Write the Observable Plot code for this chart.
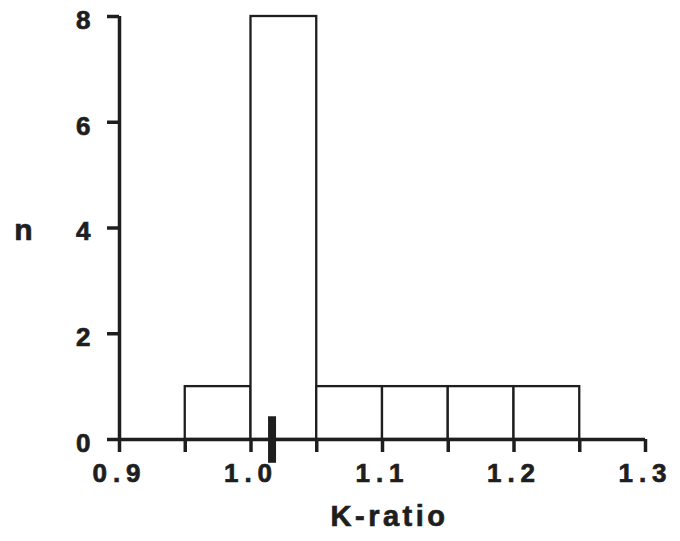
<!DOCTYPE html>
<html>
<head>
<meta charset="utf-8">
<script src="https://cdn.jsdelivr.net/npm/d3@7"></script>
<script src="https://cdn.jsdelivr.net/npm/@observablehq/plot@0.6"></script>
<style>
  html, body { margin: 0; padding: 0; background: #fff; }
  #chart svg { display: block; }
  #chart svg text { stroke: #1e1e1e; stroke-width: 0.7px; }
  .ticklab text { letter-spacing: 6px; }
  .xlab text { letter-spacing: 3.5px; }
</style>
</head>
<body>
<div id="chart"></div>
<script>
// Bin edges and counts (K-ratio histogram)
const binStart = [0.95, 1.00, 1.05, 1.10, 1.15, 1.20];
const binEnd   = [1.00, 1.05, 1.10, 1.15, 1.20, 1.25];
const counts   = [1, 8, 1, 1, 1, 1];

// Marker (mean K-ratio)
const markerX = 1.016;
const markerTop = 0.43;
const markerBottom = -0.45;

// Axis ticks
const xTicks = [0.9, 0.95, 1.0, 1.05, 1.1, 1.15, 1.2, 1.25, 1.3];
const yTicks = [0, 2, 4, 6, 8];

const bins = binStart.map((s, i) => ({x1: s, x2: binEnd[i], n: counts[i]}));
const ink = "#1e1e1e";
const font = "'Liberation Sans', Arial, Helvetica, sans-serif";

const chart = Plot.plot({
  width: 680,
  height: 541,
  marginLeft: 119,
  marginRight: 35,
  marginTop: 16,
  marginBottom: 102,
  style: {fontFamily: font, fontWeight: "bold", color: ink, background: "#fff"},
  x: {domain: [0.9, 1.3]},
  y: {domain: [0, 8]},
  marks: [
    Plot.rect(bins, {x1: "x1", x2: "x2", y1: 0, y2: "n", fill: "white", stroke: ink, strokeWidth: 2.3}),
    Plot.ruleX([0.9], {y1: 0, y2: 8, stroke: ink, strokeWidth: 3.5}),
    Plot.ruleY([0], {x1: 0.9, x2: 1.3, stroke: ink, strokeWidth: 3.5}),
    Plot.axisX({
      ticks: xTicks, tickSize: 13, tickPadding: 11, strokeWidth: 3.5, stroke: ink,
      tickFormat: d => { const s = d.toFixed(2); return s.endsWith("0") ? d.toFixed(1) : ""; },
      fontSize: 26, label: null, className: "ticklab"
    }),
    Plot.axisY({
      ticks: yTicks, tickSize: 12, strokeWidth: 3.5, stroke: ink,
      tickFormat: () => "", label: null
    }),
    Plot.axisY({
      ticks: yTicks, tickSize: 0, tickPadding: 29, dy: 4,
      tickFormat: d => String(d), fontSize: 26, label: null
    }),
    Plot.ruleX([markerX], {y1: markerBottom, y2: markerTop, stroke: ink, strokeWidth: 8}),
    Plot.text(["n"], {frameAnchor: "left", textAnchor: "middle", y: [4], dx: -96, dy: 2, fontSize: 30, fill: ink}),
    Plot.text(["K-ratio"], {frameAnchor: "bottom", dx: 7, dy: 86, fontSize: 29, fill: ink, className: "xlab"})
  ]
});
document.getElementById("chart").appendChild(chart);
</script>
</body>
</html>
